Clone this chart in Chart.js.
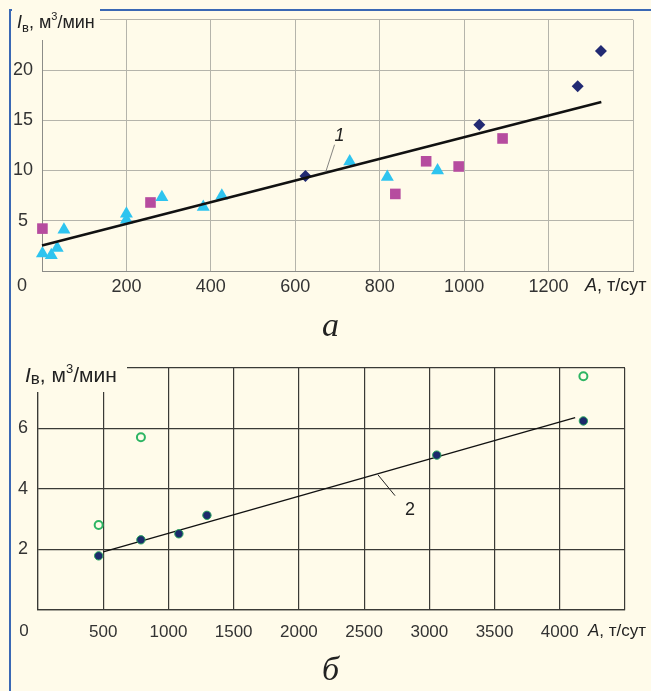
<!DOCTYPE html>
<html>
<head>
<meta charset="utf-8">
<script src="https://cdn.jsdelivr.net/npm/chart.js@4.4.1/dist/chart.umd.min.js"></script>
<style>
  html, body { margin: 0; padding: 0; background: #fffbea; }
  body { width: 651px; height: 691px; position: relative; overflow: hidden; }
  #frame { position: absolute; left: 9px; top: 9px; width: 700px; height: 700px;
           border-left: 2px solid #3a68b4; border-top: 2px solid #3a68b4; }
  canvas { position: absolute; left: 0; }
  .cap { position: absolute; font: italic 34px "Liberation Serif", serif; color: #222; line-height: 1; }
</style>
</head>
<body>
<div id="frame"></div>
<canvas id="chartA" width="651" height="300" style="top:0"></canvas>
<canvas id="chartB" width="651" height="310" style="top:340px"></canvas>
<div class="cap" style="left:322px;top:308px">а</div>
<div class="cap" style="left:322px;top:652px">б</div>
<script>
// ---- chart а : I_в vs A, т/сут (0..1400)
const triA = [1, 22, 36, 52, 200, 200, 284, 382, 426, 729, 818, 937];
const triI = [1.75, 1.56, 2.3, 4.1, 5.7, 5.1, 7.35, 6.37, 7.5, 10.9, 9.36, 10.0];
const sqA = [1, 257, 837, 910, 987, 1091];
const sqI = [4.22, 6.82, 7.67, 10.92, 10.4, 13.19];
const dmA = [624, 1036, 1269, 1324];
const dmI = [9.45, 14.55, 18.39, 21.9];
const line1A = [0, 1325];
const line1I = [2.53, 16.83];
const ticksA_x = [200, 400, 600, 800, 1000, 1200];
const ticksA_y = [5, 10, 15, 20];

// ---- chart б : I_в vs A, т/сут (0..4500)
const dotA = [465, 789, 1080, 1295, 3057, 4181];
const dotI = [1.79, 2.32, 2.52, 3.13, 5.12, 6.25];
const ringA = [465, 789, 4181];
const ringI = [2.81, 5.71, 7.73];
const line2A = [500, 4118];
const line2I = [1.92, 6.36];
const ticksB_x = [500, 1000, 1500, 2000, 2500, 3000, 3500, 4000];
const ticksB_y = [2, 4, 6];

const BG = '#fffbea';
const SANS = "'Liberation Sans', Arial, sans-serif";

function pts(xs, ys) {
  return xs.map((x, i) => ({ x: x, y: ys[i] }));
}

// I_в, м³/мин  drawn piece by piece
function yTitle(ctx, x, y, fs, fam, subScale, subDy) {
  ctx.textAlign = 'left';
  ctx.textBaseline = 'alphabetic';
  ctx.fillStyle = '#222';
  const parts = [
    ['I', 'italic ', 1, 0],
    ['в', '', subScale, subDy],
    [', м', '', 1, 0],
    ['3', '', 0.62, -fs * 0.42],
    ['/мин', '', 1, 0]
  ];
  for (const p of parts) {
    ctx.font = p[1] + Math.round(fs * p[2]) + 'px ' + fam;
    ctx.fillText(p[0], x, y + p[3]);
    x += ctx.measureText(p[0]).width;
  }
}

function xTitle(ctx, x, y, fs, fam) {
  ctx.textAlign = 'left';
  ctx.textBaseline = 'middle';
  ctx.fillStyle = '#222';
  ctx.font = 'italic ' + fs + 'px ' + fam;
  ctx.fillText('A', x, y);
  x += ctx.measureText('A').width;
  ctx.font = fs + 'px ' + fam;
  ctx.fillText(', т/сут', x, y);
}

function decor(o) {
  return {
    id: 'decor',
    beforeDatasetsDraw(chart) {
      const ctx = chart.ctx;
      ctx.save();
      ctx.fillStyle = BG;
      ctx.fillRect(o.cover[0], o.cover[1], o.cover[2], o.cover[3]);
      ctx.restore();
    },
    afterDraw(chart) {
      const ctx = chart.ctx;
      const sx = chart.scales.x, sy = chart.scales.y;
      ctx.save();
      yTitle(ctx, o.yt[0], o.yt[1], o.ytSize, o.ytFam, o.subScale, o.subDy);
      xTitle(ctx, o.xt[0], o.xt[1], o.fs, o.fam);
      // common zero in the corner
      ctx.font = o.fs + 'px ' + o.fam;
      ctx.textAlign = 'center';
      ctx.fillStyle = '#333';
      ctx.fillText('0', o.zero[0], o.zero[1]);
      // curve label with leader
      const L = o.lab;
      ctx.strokeStyle = L.color;
      ctx.lineWidth = L.width;
      ctx.beginPath();
      ctx.moveTo(sx.getPixelForValue(L.from[0]), sy.getPixelForValue(L.from[1]));
      ctx.lineTo(sx.getPixelForValue(L.to[0]), sy.getPixelForValue(L.to[1]));
      ctx.stroke();
      ctx.fillStyle = '#222';
      ctx.font = L.font;
      ctx.textAlign = 'center';
      ctx.textBaseline = 'middle';
      ctx.fillText(L.text, sx.getPixelForValue(L.at[0]), sy.getPixelForValue(L.at[1]));
      ctx.restore();
    }
  };
}

function onlyTicks(list) {
  return function (v) { return list.includes(v) ? String(v) : ''; };
}

// ---------- chart а
new Chart(document.getElementById('chartA'), {
  type: 'scatter',
  data: {
    datasets: [
      { label: '1', data: pts(line1A, line1I), showLine: true, borderColor: '#111',
        borderWidth: 2.6, pointRadius: 0, clip: false },
      { label: 'tri', data: pts(triA, triI), pointStyle: 'triangle', pointRadius: 7.5,
        backgroundColor: '#2ec4ef', borderColor: '#2ec4ef', borderWidth: 0, clip: false },
      { label: 'sq', data: pts(sqA, sqI), pointStyle: 'rect', pointRadius: 7.5,
        backgroundColor: '#b64c9f', borderColor: '#b64c9f', borderWidth: 0, clip: false },
      { label: 'dm', data: pts(dmA, dmI), pointStyle: 'rectRot', pointRadius: 6,
        backgroundColor: '#222a73', borderColor: '#222a73', borderWidth: 0, clip: false }
    ]
  },
  options: {
    responsive: false,
    animation: false,
    devicePixelRatio: 1,
    layout: { padding: { left: 10, top: 16, right: 18, bottom: 0 }, autoPadding: false },
    plugins: { legend: { display: false }, tooltip: { enabled: false } },
    scales: {
      x: {
        type: 'linear', min: 0, max: 1400,
        ticks: { stepSize: 200, autoSkip: false, maxRotation: 0, padding: 5,
                 font: { size: 18, family: SANS }, color: '#333', callback: onlyTicks(ticksA_x) },
        grid: { color: '#b5b4ab', lineWidth: 1, drawTicks: false },
        border: { color: '#8c8c88', width: 1 },
        afterFit(s) { s.height = 29; }
      },
      y: {
        type: 'linear', min: 0, max: 25,
        ticks: { stepSize: 5, padding: 9, crossAlign: 'center',
                 font: { size: 18, family: SANS }, color: '#333', callback: onlyTicks(ticksA_y) },
        grid: { color: '#b5b4ab', lineWidth: 1, drawTicks: false },
        border: { color: '#8c8c88', width: 1 },
        afterFit(s) { s.width = 32; }
      }
    }
  },
  plugins: [decor({
    cover: [12, 0, 88, 40],
    yt: [17, 28], ytSize: 18, ytFam: SANS, subScale: 0.72, subDy: 4,
    xt: [585, 286], fs: 18, fam: SANS,
    zero: [22, 286],
    lab: { text: '1', font: 'italic 18px ' + SANS, at: [705, 13.45],
           from: [693, 12.57], to: [672, 9.84], color: '#666', width: 0.8 }
  })]
});

// ---------- chart б
new Chart(document.getElementById('chartB'), {
  type: 'scatter',
  data: {
    datasets: [
      { label: 'dots', data: pts(dotA, dotI), pointStyle: 'circle', pointRadius: 4.2,
        backgroundColor: '#1c2a6b', borderColor: '#2aa860', borderWidth: 1, clip: false },
      { label: '2', data: pts(line2A, line2I), showLine: true, borderColor: '#111',
        borderWidth: 1.4, pointRadius: 0, clip: false },
      { label: 'rings', data: pts(ringA, ringI), pointStyle: 'circle', pointRadius: 4,
        backgroundColor: 'rgba(0,0,0,0)', borderColor: '#2db563', borderWidth: 2, clip: false }
    ]
  },
  options: {
    responsive: false,
    animation: false,
    devicePixelRatio: 1,
    layout: { padding: { left: 10, top: 28, right: 26, bottom: 0 }, autoPadding: false },
    plugins: { legend: { display: false }, tooltip: { enabled: false } },
    scales: {
      x: {
        type: 'linear', min: 0, max: 4500,
        ticks: { stepSize: 500, autoSkip: false, maxRotation: 0, padding: 12,
                 font: { size: 17, family: SANS }, color: '#333', callback: onlyTicks(ticksB_x) },
        grid: { color: '#3a3a36', lineWidth: 1.2, drawTicks: false },
        border: { color: '#3a3a36', width: 1.2 },
        afterFit(s) { s.height = 40; }
      },
      y: {
        type: 'linear', min: 0, max: 8,
        ticks: { stepSize: 2, padding: 10, crossAlign: 'center',
                 font: { size: 18, family: SANS }, color: '#333', callback: onlyTicks(ticksB_y) },
        grid: { color: '#3a3a36', lineWidth: 1.2, drawTicks: false },
        border: { color: '#3a3a36', width: 1.2 },
        afterFit(s) { s.width = 28; }
      }
    }
  },
  plugins: [decor({
    cover: [12, 0, 115, 52],
    yt: [25, 42], ytSize: 21, ytFam: SANS, subScale: 0.8, subDy: 2,
    xt: [588, 291], fs: 17, fam: SANS,
    zero: [24, 291],
    lab: { text: '2', font: '18px ' + SANS, at: [2852, 3.32],
           from: [2606, 4.47], to: [2737, 3.78], color: '#222', width: 1 }
  })]
});
</script>
</body>
</html>
